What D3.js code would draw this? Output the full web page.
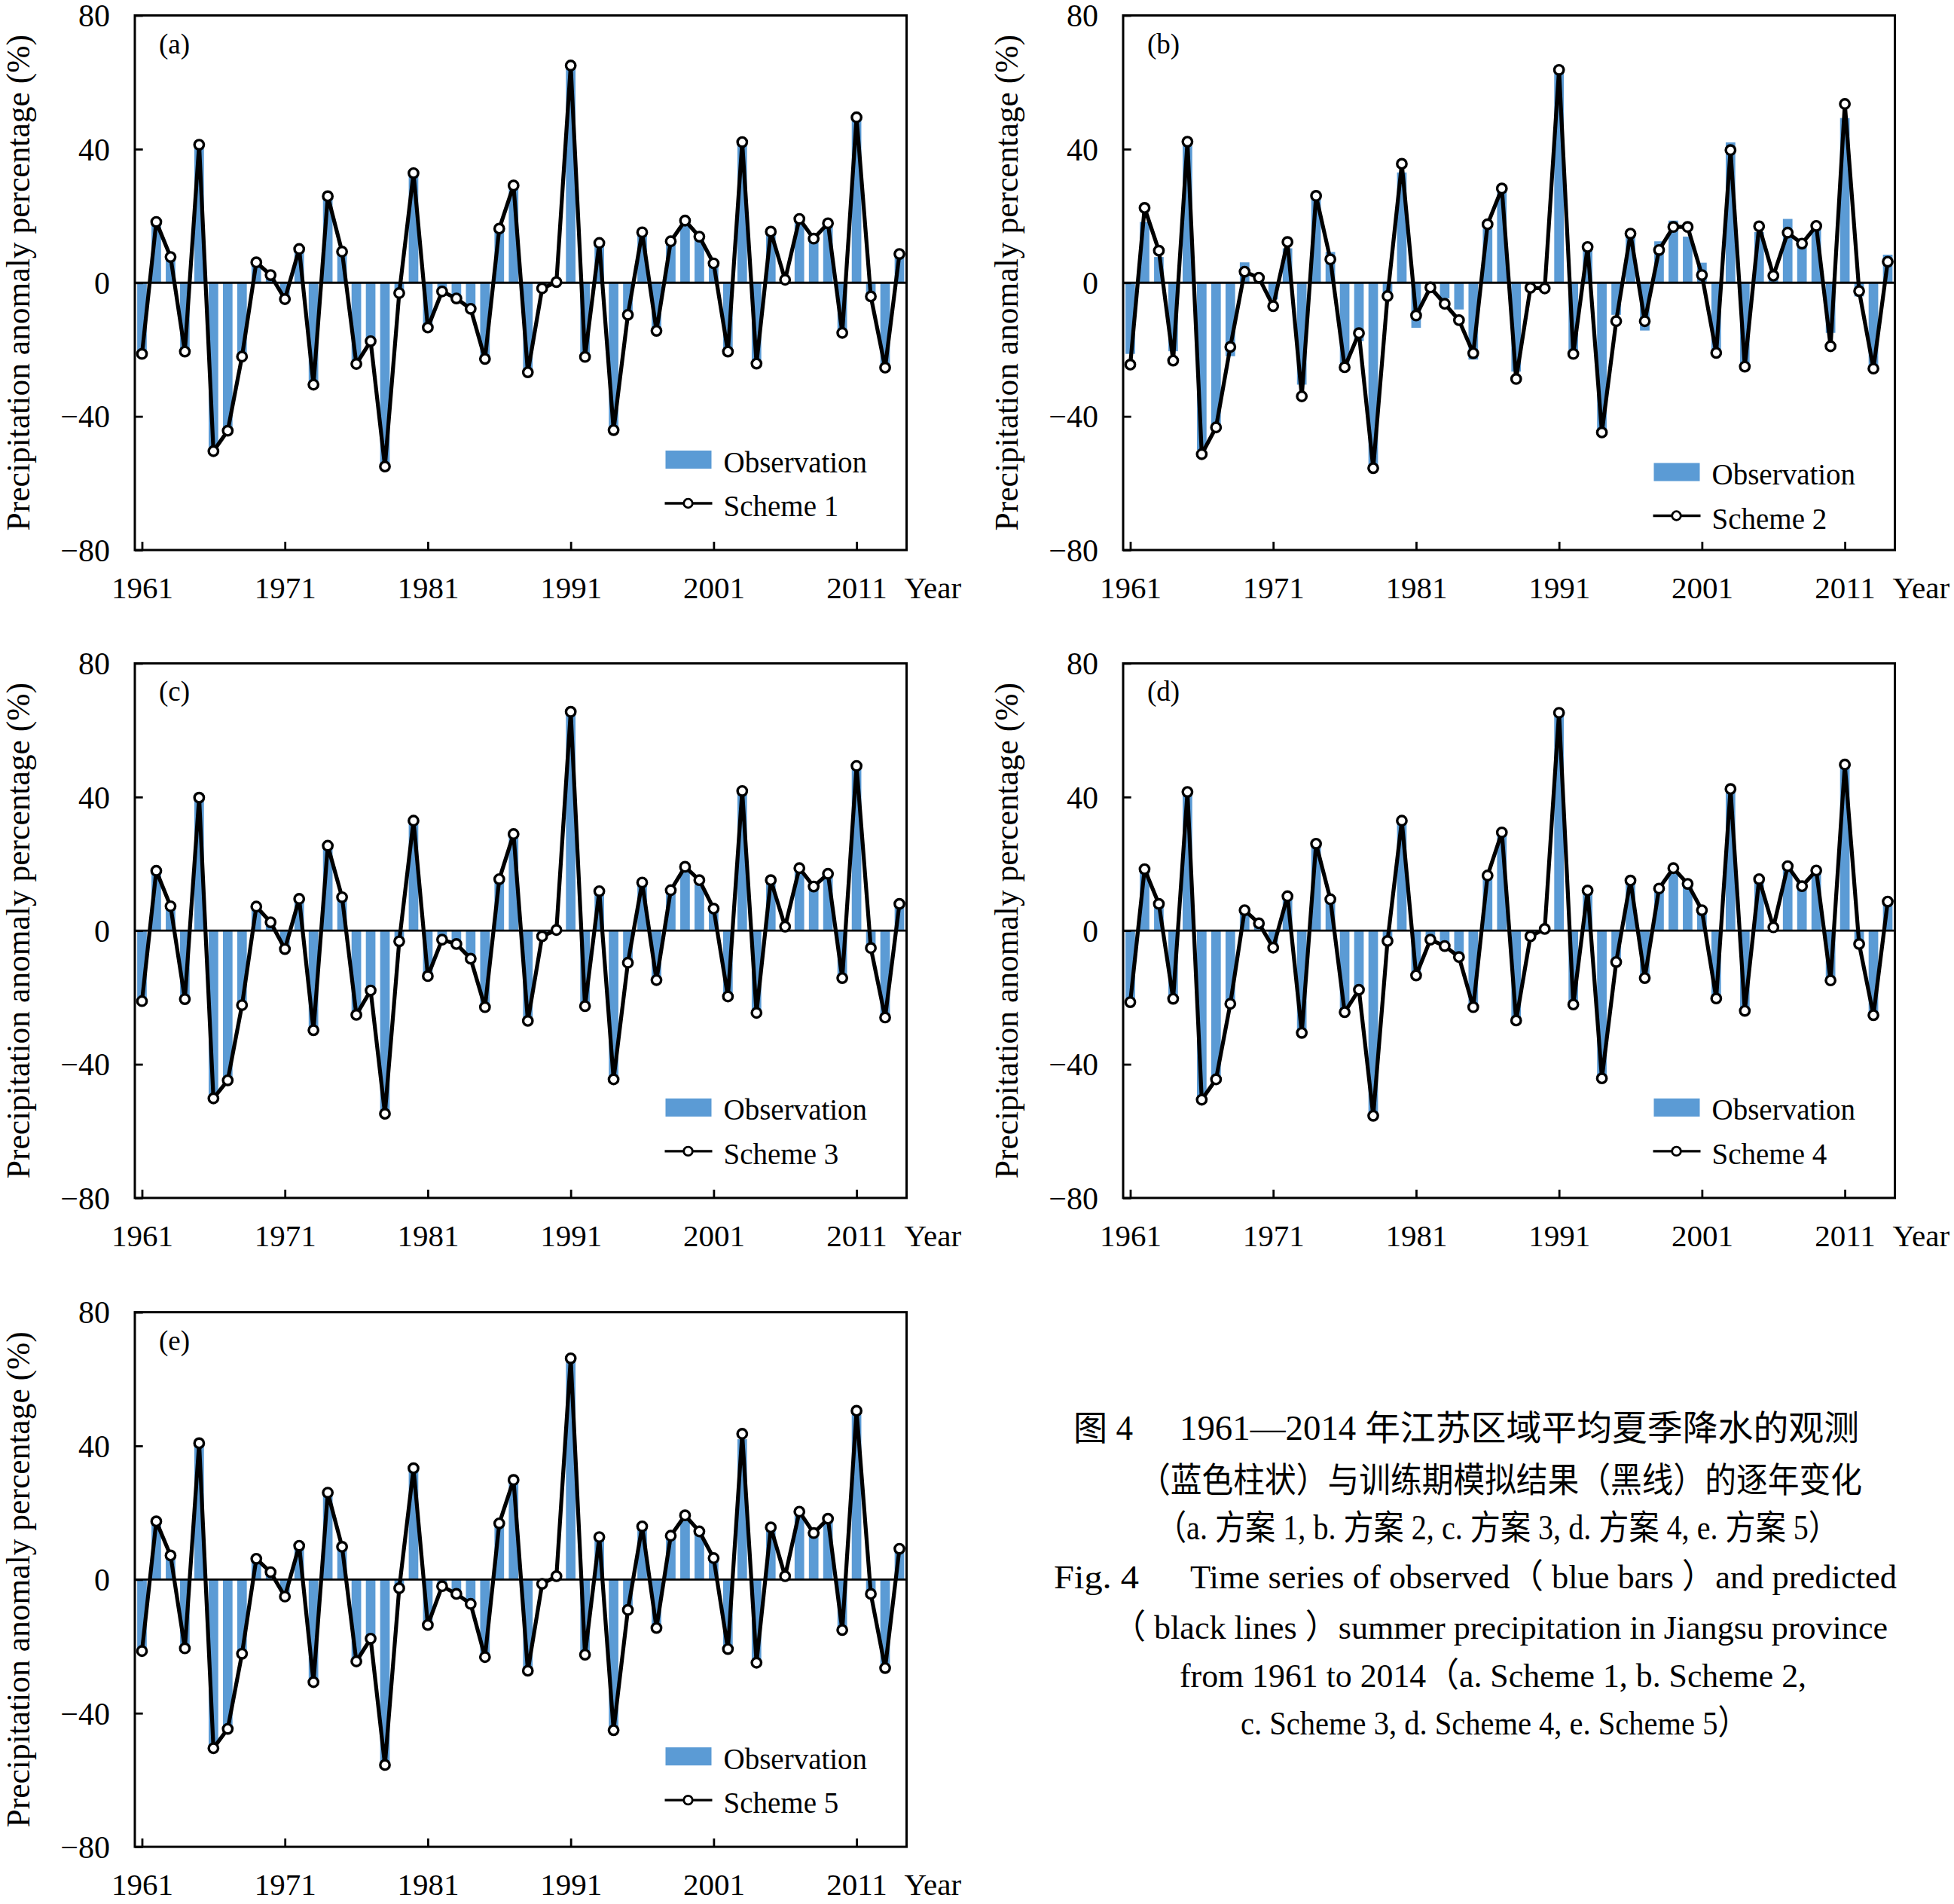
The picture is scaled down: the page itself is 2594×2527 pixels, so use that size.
<!DOCTYPE html>
<html><head><meta charset="utf-8">
<script src="https://cdn.jsdelivr.net/npm/d3@7/dist/d3.min.js"></script>
<style>body{margin:0;background:#fff}svg{display:block}</style>
</head><body><script>
// ---------------- DATA ----------------
const years = [1961,1962,1963,1964,1965,1966,1967,1968,1969,1970,
  1971,1972,1973,1974,1975,1976,1977,1978,1979,1980,
  1981,1982,1983,1984,1985,1986,1987,1988,1989,1990,
  1991,1992,1993,1994,1995,1996,1997,1998,1999,2000,
  2001,2002,2003,2004,2005,2006,2007,2008,2009,2010,
  2011,2012,2013,2014];
const observation = [-21.3,18.2,7.7,-20.5,41.0,-50.0,-44.3,-22.0,6.1,2.2,
  -5.0,10.3,-30.5,25.5,9.2,-24.2,-17.5,-55.0,-3.0,33.0,
  -13.5,-2.6,-4.7,-8.0,-23.0,16.2,29.0,-26.6,-1.7,0.2,
  65.0,-22.0,12.0,-44.0,-9.6,15.0,-14.3,12.4,18.6,13.8,
  6.0,-20.6,42.0,-24.2,15.2,1.0,19.1,13.2,17.8,-15.0,
  49.3,-4.1,-25.3,8.4];
const scheme1 = [-21.3,18.2,7.7,-20.6,41.3,-50.4,-44.3,-22.1,6.1,2.3,
  -4.9,10.1,-30.5,25.9,9.3,-24.3,-17.5,-55.0,-3.1,32.8,
  -13.4,-2.6,-4.7,-7.8,-22.8,16.2,29.1,-26.8,-1.7,0.2,
  65.0,-22.2,11.9,-44.1,-9.6,15.1,-14.4,12.4,18.6,13.8,
  5.8,-20.6,42.1,-24.2,15.3,0.9,19.1,13.2,17.8,-15.0,
  49.5,-4.1,-25.4,8.6];
const scheme2 = [-24.5,22.4,9.6,-23.3,42.2,-51.3,-43.3,-19.2,3.3,1.5,
  -7.0,12.2,-34.0,26.0,7.0,-25.3,-15.1,-55.5,-4.0,35.6,
  -9.8,-1.4,-6.3,-11.2,-21.1,17.5,28.2,-28.8,-1.5,-1.7,
  63.7,-21.3,10.7,-44.8,-11.5,14.7,-11.5,9.8,16.7,16.7,
  2.3,-21.0,39.7,-25.1,16.9,2.1,15.0,11.7,17.0,-19.0,
  53.5,-2.5,-25.7,6.3];
const scheme3 = [-21.1,17.9,7.3,-20.5,39.8,-50.2,-44.8,-22.3,7.2,2.5,
  -5.5,9.5,-29.8,25.4,10.0,-25.2,-17.9,-54.8,-3.2,32.9,
  -13.6,-2.7,-4.0,-8.4,-22.9,15.4,28.9,-27.0,-1.7,0.2,
  65.5,-22.6,11.8,-44.5,-9.6,14.4,-14.8,12.1,19.1,15.1,
  6.6,-19.7,41.8,-24.6,15.1,1.2,18.7,13.2,17.0,-14.2,
  49.3,-5.2,-26.0,8.0];
const scheme4 = [-21.4,18.4,8.0,-20.4,41.5,-50.6,-44.5,-21.9,6.1,2.2,
  -5.1,10.3,-30.6,26.0,9.4,-24.4,-17.7,-55.4,-3.1,32.9,
  -13.4,-2.7,-4.6,-7.9,-22.9,16.5,29.4,-26.9,-1.7,0.5,
  65.2,-22.1,12.0,-44.2,-9.4,15.0,-14.2,12.6,18.7,14.0,
  6.1,-20.3,42.4,-24.0,15.4,1.0,19.3,13.3,18.0,-14.9,
  49.7,-4.0,-25.3,8.7];
const scheme5 = [-21.4,17.4,7.2,-20.6,40.8,-50.5,-44.7,-22.2,6.2,2.2,
  -5.1,10.1,-30.7,26.0,9.8,-24.5,-17.7,-55.5,-2.6,33.3,
  -13.6,-2.0,-4.3,-7.3,-23.2,16.8,29.8,-27.3,-1.3,1.0,
  66.2,-22.5,12.7,-45.1,-9.1,15.9,-14.5,13.1,19.2,14.4,
  6.4,-20.8,43.6,-24.9,15.6,1.0,20.3,13.9,18.2,-15.1,
  50.5,-4.3,-26.5,9.2];
const schemeNames = ["Scheme 1","Scheme 2","Scheme 3","Scheme 4","Scheme 5"];
const panelLabels = ["(a)","(b)","(c)","(d)","(e)"];
const xTickValues = [1961,1971,1981,1991,2001,2011];
const xTickLabels = ["1961","1971","1981","1991","2001","2011"];
const yTickValues = [-80,-40,0,40,80];
const yTickLabels = ["\u221280","\u221240","0","40","80"];
const yTitle = "Precipitation anomaly percentage (%)";
const xTitle = "Year";
const legendObs = "Observation";
const captionCN = ["图 4", "1961—2014 年江苏区域平均夏季降水的观测",
  "（蓝色柱状）与训练期模拟结果（黑线）的逐年变化",
  "（a. 方案 1, b. 方案 2, c. 方案 3, d. 方案 4, e. 方案 5）"];
const captionEN = ["Fig. 4", "Time series of observed（ blue bars ）and predicted",
  "（ black lines ）summer precipitation in Jiangsu province",
  "from 1961 to 2014（a. Scheme 1, b. Scheme 2,",
  "c. Scheme 3, d. Scheme 4, e. Scheme 5）"];
const schemes = [scheme1, scheme2, scheme3, scheme4, scheme5];

// ---------------- LAYOUT ----------------
const W = 2594, H = 2527;
const FONT = "'Liberation Serif','Times New Roman',serif";
const CJK = "'Liberation Serif','Noto Sans CJK SC',serif";
const BLUE = "#5B9BD5";
const PW = 1024.5, PH = 709.5;
const panelPos = [
  {left:179, top:20.5, legDy:0},
  {left:1491, top:20.5, legDy:16.5},
  {left:179, top:880.4, legDy:0},
  {left:1491, top:880.4, legDy:0},
  {left:179, top:1741.6, legDy:0}
];

const svg = d3.select("body").append("svg")
  .attr("width", W).attr("height", H).attr("viewBox", `0 0 ${W} ${H}`);
svg.append("rect").attr("width", W).attr("height", H).attr("fill", "#fff");

const x = d3.scaleLinear().domain([1960.5, 2014.5]).range([0, PW]);
const y = d3.scaleLinear().domain([-80, 80]).range([PH, 0]);
const step = x(1962) - x(1961);
const bw = step * 0.67;

panelPos.forEach((p, i) => {
  const g = svg.append("g").attr("transform", `translate(${p.left},${p.top})`);
  const sch = schemes[i];

  // bars
  g.selectAll("rect.bar").data(years.map((yr, k) => ({yr, v: observation[k]})))
    .join("rect").attr("class", "bar")
    .attr("x", d => x(d.yr) - bw / 2)
    .attr("y", d => y(Math.max(0, d.v)))
    .attr("width", bw)
    .attr("height", d => Math.abs(y(d.v) - y(0)))
    .attr("fill", BLUE);

  // zero line
  g.append("line").attr("x1", 0).attr("x2", PW).attr("y1", y(0)).attr("y2", y(0))
    .attr("stroke", "#000").attr("stroke-width", 2.8);

  // axes
  const yAxis = d3.axisLeft(y).tickValues(yTickValues)
    .tickFormat((d, k) => yTickLabels[k]).tickSize(-10.7).tickPadding(0);
  const ya = g.append("g").call(yAxis);
  ya.select(".domain").remove();
  ya.selectAll("line").attr("stroke", "#000").attr("stroke-width", 2.8);
  ya.selectAll("text").attr("x", -33).attr("dy", "0.34em")
    .style("font-family", FONT).style("font-size", "42px").attr("fill", "#000");

  const xAxis = d3.axisBottom(x).tickValues(xTickValues)
    .tickFormat((d, k) => xTickLabels[k]).tickSize(-11).tickPadding(0);
  const xa = g.append("g").attr("transform", `translate(0,${PH})`).call(xAxis);
  xa.select(".domain").remove();
  xa.selectAll("line").attr("stroke", "#000").attr("stroke-width", 2.8);
  xa.selectAll("text").attr("y", 64).attr("dy", 0)
    .style("font-family", FONT).style("font-size", "41px").attr("fill", "#000");

  g.append("text").attr("x", PW - 3).attr("y", PH + 64).text(xTitle)
    .style("font-family", FONT).style("font-size", "41px");

  // frame
  g.append("rect").attr("x", 0).attr("y", 0).attr("width", PW).attr("height", PH)
    .attr("fill", "none").attr("stroke", "#000").attr("stroke-width", 3);

  // scheme line
  const line = d3.line().x((d, k) => x(years[k])).y(d => y(d));
  g.append("path").datum(sch).attr("d", line)
    .attr("fill", "none").attr("stroke", "#000").attr("stroke-width", 5.2)
    .attr("stroke-linejoin", "round");
  g.selectAll("circle.pt").data(sch).join("circle").attr("class", "pt")
    .attr("cx", (d, k) => x(years[k])).attr("cy", d => y(d)).attr("r", 6.2)
    .attr("fill", "#fff").attr("stroke", "#000").attr("stroke-width", 3.4);

  // panel label
  g.append("text").attr("x", 32).attr("y", 50).text(panelLabels[i])
    .style("font-family", FONT).style("font-size", "37px");

  // y title
  g.append("text").attr("transform", `translate(${-140},${PH / 2}) rotate(-90)`)
    .attr("text-anchor", "middle").text(yTitle)
    .style("font-family", FONT).style("font-size", "43.5px");

  // legend
  const lg = g.append("g").attr("transform", `translate(${PW - 320},${577.5 + p.legDy})`);
  lg.append("rect").attr("x", 0).attr("y", 0).attr("width", 61).attr("height", 24).attr("fill", BLUE);
  lg.append("text").attr("x", 77).attr("y", 28.5).text(legendObs)
    .style("font-family", FONT).style("font-size", "39px");
  lg.append("line").attr("x1", -1).attr("x2", 62).attr("y1", 70).attr("y2", 70)
    .attr("stroke", "#000").attr("stroke-width", 3.4);
  lg.append("circle").attr("cx", 30).attr("cy", 70).attr("r", 5.8)
    .attr("fill", "#fff").attr("stroke", "#000").attr("stroke-width", 2.8);
  lg.append("text").attr("x", 77).attr("y", 87).text(schemeNames[i])
    .style("font-family", FONT).style("font-size", "39px");
});

// ---------------- CAPTION ----------------
const cap = svg.append("g").style("fill", "#000");
function capText(str, xx, yy, len, size) {
  const t = cap.append("text").attr("x", xx).attr("y", yy).text(str)
    .style("font-family", CJK).style("font-size", size + "px");
  if (len) t.attr("textLength", len).attr("lengthAdjust", "spacingAndGlyphs");
  return t;
}
capText(captionCN[0], 1425, 1911, 79, 46);
capText(captionCN[1], 1566, 1911, 902, 46);
capText(captionCN[2], 1512, 1980, 960, 46);
capText(captionCN[3], 1535, 2043, 906, 46);
capText(captionEN[0], 1399, 2108, 113, 45);
capText(captionEN[1], 1580, 2108, 938, 45);
capText(captionEN[2], 1477, 2175, 1029, 45);
capText(captionEN[3], 1566, 2239, 832, 45);
capText(captionEN[4], 1647, 2302, 674, 45);
</script></body></html>
